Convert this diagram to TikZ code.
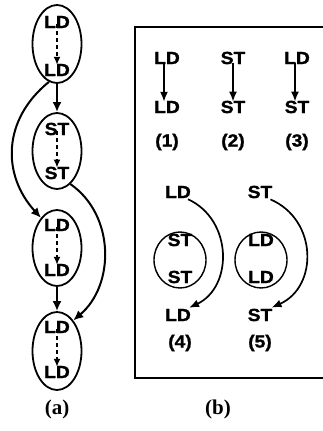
\documentclass[tikz,border=0pt]{standalone}
\usepackage{fontspec}
\newfontfamily\arialf{Liberation Sans Bold}[FakeBold=1.2,FakeStretch=1.1]
\newfontfamily\timesf{Liberation Serif Bold}
\usetikzlibrary{shapes.geometric,arrows.meta}
\begin{document}
\begin{tikzpicture}[x=1pt,y=-1pt,
  lbl/.style={font=\arialf\fontsize{17.5}{17.5}\selectfont, inner sep=0pt},
  captxt/.style={font=\timesf\fontsize{21}{21}\selectfont, inner sep=0pt},
  oval/.style={draw, ellipse, line width=1.8pt, minimum width=49pt, inner sep=0pt},
  arr/.style={line width=2pt, -{Latex[length=10pt,width=9pt]}},
  darr/.style={line width=1.7pt, dash pattern=on 4pt off 3pt, -{Latex[length=8pt,width=7pt]}},
  tarr/.style={line width=1.7pt, -{Latex[length=10pt,width=8pt]}}]
\useasboundingbox (0,0) rectangle (323,431);
% ---- panel (a)
\node[oval, minimum height=78pt] (e1) at (57,44) {};
\node[oval, minimum height=76pt] (e2) at (57,151) {};
\node[oval, minimum height=76pt] (e3) at (57,248) {};
\node[oval, minimum height=78pt] (e4) at (57,351) {};
\node[lbl] (a1) at (57,22) {LD};
\node[lbl] (a2) at (57,70) {LD};
\node[lbl] (a3) at (57,129) {ST};
\node[lbl] (a4) at (57,173) {ST};
\node[lbl] (a5) at (57,225) {LD};
\node[lbl] (a6) at (57,270) {LD};
\node[lbl] (a7) at (57,327) {LD};
\node[lbl] (a8) at (57,372) {LD};
\draw[darr] ([yshift=4pt]a1.south) -- ([yshift=-1pt]a2.north);
\draw[darr] ([yshift=4pt]a3.south) -- ([yshift=-1pt]a4.north);
\draw[darr] ([yshift=4pt]a5.south) -- ([yshift=-1pt]a6.north);
\draw[darr] ([yshift=4pt]a7.south) -- ([yshift=-1pt]a8.north);
\draw[arr] (e1.south) -- (e2.north);
\draw[arr] (e3.south) -- (e4.north);
\draw[arr] (e1.258) .. controls (2,120) and (2,175) .. (e3.118);
\draw[arr] (e2.292) .. controls (115,215) and (115,285) .. (e4.62);
\node[captxt] (ca) at (57,409) {(a)};
% ---- panel (b)
\coordinate (fr1) at (330,27);
\coordinate (fr2) at (135,27);
\coordinate (fr3) at (135,378);
\coordinate (fr4) at (330,378);
\draw[line width=1.8pt] (fr1) -- (fr2) -- (fr3) -- (fr4);
\node[lbl] (p1a) at (167,58) {LD};
\node[lbl] (p1b) at (167,107) {LD};
\node[lbl] (p2a) at (233,58) {ST};
\node[lbl] (p2b) at (233,107) {ST};
\node[lbl] (p3a) at (297,58) {LD};
\node[lbl] (p3b) at (297,107) {ST};
\node[lbl] (n1) at (167,142) {(1)};
\node[lbl] (n2) at (233,142) {(2)};
\node[lbl] (n3) at (297,142) {(3)};
\draw[tarr] ([xshift=-3pt,yshift=1pt]p1a.south) -- ([xshift=-3pt,yshift=-1pt]p1b.north);
\draw[tarr] ([yshift=1pt]p2a.south) -- ([yshift=-1pt]p2b.north);
\draw[tarr] ([xshift=-2pt,yshift=1pt]p3a.south) -- ([xshift=-2pt,yshift=-1pt]p3b.north);
\node[lbl] (q4a) at (178,192) {LD};
\node[lbl] (q4b) at (178,315) {LD};
\node[lbl] (q5a) at (260,192) {ST};
\node[lbl] (q5b) at (260,315) {ST};
\node[draw, ellipse, line width=1.4pt, minimum width=52pt, minimum height=56pt] (o4) at (180,260) {};
\node[draw, ellipse, line width=1.4pt, minimum width=52pt, minimum height=56pt] (o5) at (261,260) {};
\node[lbl] (s1) at (180,240) {ST};
\node[lbl] (s2) at (180,277) {ST};
\node[lbl] (s3) at (261,240) {LD};
\node[lbl] (s4) at (261,277) {LD};
\draw[tarr] ([xshift=-3pt,yshift=-1pt]q4a.south east) .. controls (233,220) and (233,287) .. ([xshift=-2pt,yshift=1pt]q4b.north east);
\draw[tarr] ([xshift=-2pt,yshift=-1pt]q5a.south east) .. controls (318,220) and (318,287) .. ([xshift=-1pt,yshift=1pt]q5b.north east);
\node[lbl] (n4) at (180,343) {(4)};
\node[lbl] (n5) at (260,343) {(5)};
\node[captxt] (cb) at (218,409) {(b)};
\end{tikzpicture}
\end{document}
